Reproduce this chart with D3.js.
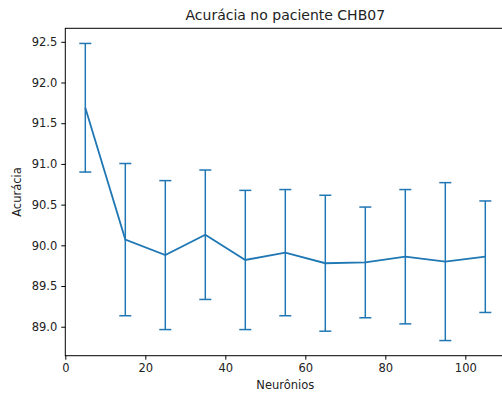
<!DOCTYPE html>
<html>
<head>
<meta charset="utf-8">
<script src="https://cdn.jsdelivr.net/npm/d3@7"></script>
<style>
  body { margin: 0; background: #fff; }
  svg { font-family: "DejaVu Sans", sans-serif; }
</style>
</head>
<body>
<svg id="chart" width="502" height="398"></svg>
<script>
const neurons = [5, 15, 25, 35, 45, 55, 65, 75, 85, 95, 105];
const accuracy = [91.69, 90.07, 89.88, 90.13, 89.82, 89.91, 89.78, 89.79, 89.86, 89.80, 89.86];
const stdDev = [0.79, 0.935, 0.915, 0.795, 0.855, 0.775, 0.835, 0.68, 0.825, 0.97, 0.685];
const xTicks = [0, 20, 40, 60, 80, 100];
const yTicks = [89.0, 89.5, 90.0, 90.5, 91.0, 91.5, 92.0, 92.5];

const svg = d3.select('#chart');
const margin = { left: 65.3, top: 28.3, right: 505.3, bottom: 355.7 };
const color = '#1f77b4';

const x = d3.scaleLinear().domain([0, 110]).range([margin.left, margin.right]);
const y = d3.scaleLinear().domain([88.644, 92.666]).range([margin.bottom, margin.top]);

const data = neurons.map((n, i) => ({ n, m: accuracy[i], s: stdDev[i] }));

// frame
svg.append('rect')
  .attr('x', margin.left).attr('y', margin.top)
  .attr('width', margin.right - margin.left)
  .attr('height', margin.bottom - margin.top)
  .attr('fill', 'none')
  .attr('stroke', '#000')
  .attr('stroke-width', 1);

const xAxis = svg.append('g')
  .attr('transform', `translate(0,${margin.bottom})`)
  .call(d3.axisBottom(x).tickValues(xTicks).tickSize(4).tickPadding(4).tickFormat(d3.format('d')));
const yAxis = svg.append('g')
  .attr('transform', `translate(${margin.left},0)`)
  .call(d3.axisLeft(y).tickValues(yTicks).tickSize(4).tickPadding(4).tickFormat(d3.format('.1f')));

[xAxis, yAxis].forEach(a => {
  a.select('.domain').remove();
  a.selectAll('text').attr('font-size', 11.5).attr('fill', '#222').attr('font-family', '"DejaVu Sans", sans-serif');
  a.selectAll('line').attr('stroke', '#000');
});

// error bars
const bars = svg.append('g').attr('stroke', color).attr('stroke-width', 1.5).attr('fill', 'none');
bars.selectAll('.err')
  .data(data)
  .enter()
  .append('line')
  .attr('x1', d => x(d.n)).attr('x2', d => x(d.n))
  .attr('y1', d => y(d.m - d.s)).attr('y2', d => y(d.m + d.s));

['top', 'bottom'].forEach(side => {
  bars.selectAll('.cap-' + side)
    .data(data)
    .enter()
    .append('line')
    .attr('x1', d => x(d.n) - 6).attr('x2', d => x(d.n) + 6)
    .attr('y1', d => y(side === 'top' ? d.m + d.s : d.m - d.s))
    .attr('y2', d => y(side === 'top' ? d.m + d.s : d.m - d.s));
});

svg.append('path')
  .datum(data)
  .attr('fill', 'none')
  .attr('stroke', color)
  .attr('stroke-width', 1.8)
  .attr('d', d3.line().x(d => x(d.n)).y(d => y(d.m)));

svg.append('text')
  .attr('x', (margin.left + margin.right) / 2)
  .attr('y', 20)
  .attr('text-anchor', 'middle')
  .attr('font-size', 14)
  .attr('fill', '#222')
  .text('Acurácia no paciente CHB07');

svg.append('text')
  .attr('x', (margin.left + margin.right) / 2)
  .attr('y', 389)
  .attr('text-anchor', 'middle')
  .attr('font-size', 11.5)
  .attr('fill', '#222')
  .text('Neurônios');

svg.append('text')
  .attr('transform', `translate(21,${(margin.top + margin.bottom) / 2}) rotate(-90)`)
  .attr('text-anchor', 'middle')
  .attr('font-size', 11.5)
  .attr('fill', '#222')
  .text('Acurácia');
</script>
</body>
</html>
